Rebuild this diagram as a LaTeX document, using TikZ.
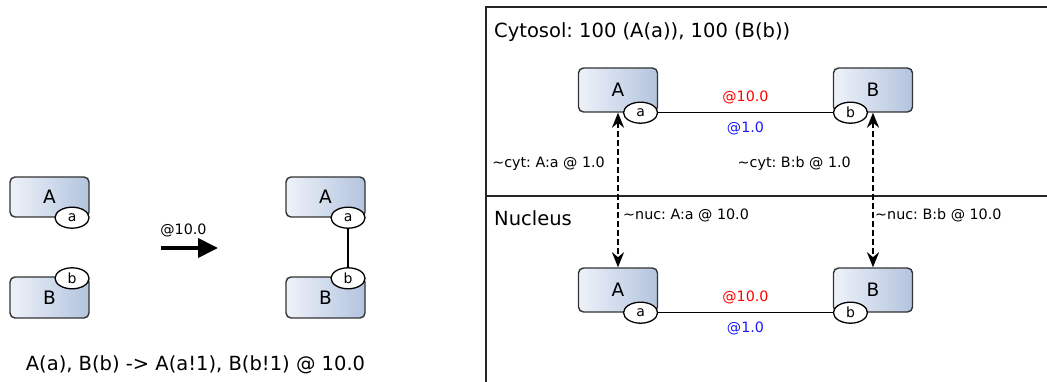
\documentclass[tikz,border=0pt]{standalone}
\usepackage{fontspec}
\setmainfont{DejaVu Sans}
\usetikzlibrary{shapes.geometric, arrows.meta, positioning, calc}
\definecolor{molleft}{HTML}{EEF2F9}
\definecolor{molright}{HTML}{B3C4DE}
\definecolor{molline}{HTML}{333333}
\definecolor{ratered}{HTML}{FF0000}
\definecolor{rateblue}{HTML}{1A1AFF}
\newcommand{\titlefont}{\fontsize{19.5}{23}\selectfont}
\newcommand{\molfont}{\fontsize{18.5}{21}\selectfont}
\newcommand{\sitefont}{\fontsize{14}{16}\selectfont}
\newcommand{\ratefont}{\fontsize{14.3}{17}\selectfont}
\newcommand{\lblfont}{\fontsize{14.3}{17}\selectfont}
\frenchspacing
\tikzset{
  % molecola (specie)
  mol/.style={draw=molline, line width=1.4pt, rounded corners=5pt, minimum width=79pt,
    minimum height=44pt, left color=molleft, right color=molright, font=\molfont,
    inner sep=0pt},
  % sito di legame
  site/.style={ellipse, draw=black, line width=1.3pt, fill=white, minimum width=34pt,
    minimum height=21pt, inner sep=0pt, font=\sitefont},
  % legame tra siti
  bond/.style={line width=1.5pt, black},
  % freccia della reazione
  react/.style={line width=4pt, -{Triangle[length=20pt, width=19pt]}},
  % trasporto tra compartimenti
  transport/.style={dashed, dash pattern=on 6pt off 3pt, line width=2pt,
    {Stealth[length=15pt, width=12pt]}-{Stealth[length=15pt, width=12pt]}},
  % costanti di velocita'
  ratefwd/.style={text=ratered, font=\ratefont, inner sep=0pt},
  raterev/.style={text=rateblue, font=\ratefont, inner sep=0pt},
  % etichette
  lbl/.style={font=\lblfont, inner sep=0pt},
  comptitle/.style={font=\titlefont, anchor=west, inner sep=0pt},
  % bordo dei compartimenti
  panel/.style={line width=1.8pt, black!85},
}
\begin{document}
\begin{tikzpicture}[x=1pt, y=-1pt]
  \useasboundingbox (0,0) rectangle (1047,382);
  % reazione
  \node[mol, minimum height=40pt] (A) at (49.5,197) {A};
  \node[site, anchor=east] (a) at (A.south east) {a};
  \node[mol, minimum height=41pt] (B) at (49.5,297.5) {B};
  \node[site, anchor=east] (b) at ([yshift=-2pt]B.north east) {b};
  \coordinate (rs) at (161,248);
  \coordinate (re) at (218,248);
  \draw[react] (rs) -- (re);
  \node[lbl] (rk) at (183.5,230) {@10.0};
  \node[mol, minimum height=40pt] (AB1) at (325.5,197) {A};
  \node[site, anchor=east] (ab1) at (AB1.south east) {a};
  \node[mol, minimum height=41pt] (AB2) at (325.5,297.5) {B};
  \node[site, anchor=east] (ab2) at ([yshift=-2pt]AB2.north east) {b};
  \draw[bond] (ab1) -- (ab2);
  \node[font=\titlefont] (eq) at (195.5,365) {A(a), B(b) -> A(a!1), B(b!1) @ 10.0};
  % compartimenti
  \draw[panel] (1047,7) -- (486,7) -- (486,382);
  \draw[panel] (486,196) -- (1047,196);
  \node[comptitle] (cyt) at (494,32) {Cytosol: 100 (A(a)), 100 (B(b))};
  \node[comptitle] (nuc) at (494,218) {Nucleus};
  % cytosol
  \node[mol] (cA) at (618,90) {A};
  \node[site, anchor=east] (ca) at (cA.south east) {a};
  \node[mol] (cB) at (873,90) {B};
  \node[site, anchor=west] (cb) at (cB.south west) {b};
  \draw[bond] (ca) -- (cb)
    node[ratefwd, midway, yshift=15pt] {@10.0}
    node[raterev, midway, yshift=-16pt] {@1.0};
  % nucleus
  \node[mol] (nA) at (618,290) {A};
  \node[site, anchor=east] (na) at (nA.south east) {a};
  \node[mol] (nB) at (873,290) {B};
  \node[site, anchor=west] (nb) at (nB.south west) {b};
  \draw[bond] (na) -- (nb)
    node[ratefwd, midway, yshift=15pt] {@10.0}
    node[raterev, midway, yshift=-16pt] {@1.0};
  % trasporto
  \draw[transport] (cA.south) -- (nA.north);
  \draw[transport] (cB.south) -- (nB.north);
  \node[lbl, anchor=east] (tcA) at (605,164) {\textasciitilde cyt: A:a @ 1.0};
  \node[lbl, anchor=west] (tnA) at (623,215) {\textasciitilde nuc: A:a @ 10.0};
  \node[lbl, anchor=east] (tcB) at (851,164) {\textasciitilde cyt: B:b @ 1.0};
  \node[lbl, anchor=west] (tnB) at (875,215) {\textasciitilde nuc: B:b @ 10.0};
\end{tikzpicture}
\end{document}
